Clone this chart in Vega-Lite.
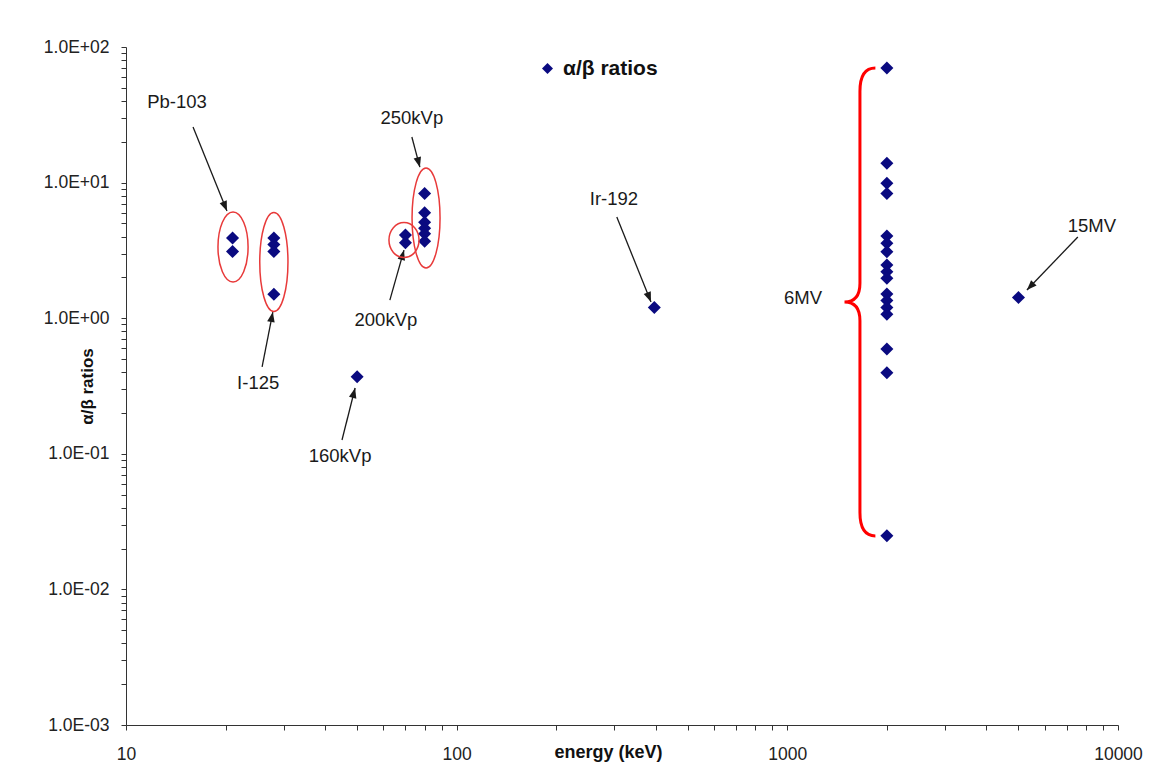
{
  "$schema": "https://vega.github.io/schema/vega-lite/v6.json",
  "width": 992,
  "height": 678,
  "autosize": {"type": "none"},
  "padding": {"left": 126, "top": 47, "right": 31, "bottom": 48},
  "background": "white",
  "config": {
    "view": {"stroke": null},
    "font": "Liberation Sans",
    "axis": {"grid": false, "labelFont": "Liberation Sans", "titleFont": "Liberation Sans", "domainColor": "#333", "tickColor": "#333", "labelColor": "#222", "titleColor": "#111", "tickSize": 5, "labelFontSize": 17.5, "titleFontSize": 18, "titleFontWeight": "bold", "labelOverlap": false, "labelFlush": false, "labelBound": false}
  },
  "datasets": {
    "pts": [
      {"x": 21, "y": 3.9}, {"x": 21, "y": 3.1},
      {"x": 28, "y": 3.9}, {"x": 28, "y": 3.5}, {"x": 28, "y": 3.1}, {"x": 28, "y": 1.5},
      {"x": 50, "y": 0.37},
      {"x": 70, "y": 4.1}, {"x": 70, "y": 3.6},
      {"x": 80, "y": 8.3}, {"x": 80, "y": 6.0}, {"x": 80, "y": 5.1}, {"x": 80, "y": 4.6}, {"x": 80, "y": 4.2}, {"x": 80, "y": 3.7},
      {"x": 396, "y": 1.2},
      {"x": 5000, "y": 1.42},
      {"x": 2000, "y": 70}, {"x": 2000, "y": 13.9}, {"x": 2000, "y": 9.9}, {"x": 2000, "y": 8.3},
      {"x": 2000, "y": 4.04}, {"x": 2000, "y": 3.57}, {"x": 2000, "y": 3.09},
      {"x": 2000, "y": 2.47}, {"x": 2000, "y": 2.2}, {"x": 2000, "y": 1.97},
      {"x": 2000, "y": 1.51}, {"x": 2000, "y": 1.35}, {"x": 2000, "y": 1.2}, {"x": 2000, "y": 1.07},
      {"x": 2000, "y": 0.593}, {"x": 2000, "y": 0.396}, {"x": 2000, "y": 0.0249}
    ],
    "ell": [
      {"name": "Pb", "x": 21.07, "y": 3.35},
      {"name": "I", "x": 28.0, "y": 2.6},
      {"name": "k200", "x": 69.3, "y": 3.77},
      {"name": "k250", "x": 80.8, "y": 5.48}
    ],
    "brace": [{"x": 1658, "y": 1.317}],
    "arrows": [
      {"x": 15.95, "y": 25.7, "x2": 20.2, "y2": 6.17},
      {"x": 73.2, "y": 21.7, "x2": 77.4, "y2": 13.0},
      {"x": 62.8, "y": 1.36, "x2": 69.3, "y2": 3.18},
      {"x": 25.8, "y": 0.437, "x2": 27.8, "y2": 1.11},
      {"x": 45.0, "y": 0.1264, "x2": 49.3, "y2": 0.3056},
      {"x": 305, "y": 5.58, "x2": 387, "y2": 1.317},
      {"x": 7560, "y": 3.97, "x2": 5303, "y2": 1.614}
    ],
    "labels": [
      {"x": 14.26, "y": 39.3, "text": "Pb-103"},
      {"x": 73.2, "y": 29.95, "text": "250kVp"},
      {"x": 61.1, "y": 0.97, "text": "200kVp"},
      {"x": 25.1, "y": 0.333, "text": "I-125"},
      {"x": 44.4, "y": 0.0963, "text": "160kVp"},
      {"x": 299, "y": 7.57, "text": "Ir-192"},
      {"x": 8340, "y": 4.79, "text": "15MV"},
      {"x": 1115, "y": 1.41, "text": "6MV"}
    ]
  },
  "encoding": {
    "x": {
      "field": "x", "type": "quantitative",
      "scale": {"type": "log", "domain": [10, 10000], "nice": false, "zero": false},
      "axis": {
        "title": "energy (keV)",
        "values": [10, 20, 30, 40, 50, 60, 70, 80, 90, 100, 200, 300, 400, 500, 600, 700, 800, 900, 1000, 2000, 3000, 4000, 5000, 6000, 7000, 8000, 9000, 10000],
        "labelExpr": "abs(log(datum.value)/LN10 - round(log(datum.value)/LN10)) < 0.001 ? format(datum.value, 'd') : ''",
        "labelPadding": 15,
        "titleX": 482,
        "titleY": 18,
        "titleBaseline": "top"
      }
    },
    "y": {
      "field": "y", "type": "quantitative",
      "scale": {"type": "log", "domain": [0.001, 100], "nice": false, "zero": false},
      "axis": {
        "title": "α/β ratios",
        "values": [0.001, 0.002, 0.003, 0.004, 0.005, 0.006, 0.007, 0.008, 0.009, 0.01, 0.02, 0.03, 0.04, 0.05, 0.06, 0.07, 0.08, 0.09, 0.1, 0.2, 0.3, 0.4, 0.5, 0.6, 0.7, 0.8, 0.9, 1, 2, 3, 4, 5, 6, 7, 8, 9, 10, 20, 30, 40, 50, 60, 70, 80, 90, 100],
        "labelExpr": "abs(log(datum.value)/LN10 - round(log(datum.value)/LN10)) < 0.001 ? '1.0E' + (datum.value >= 1 ? '+' : '-') + '0' + abs(round(log(datum.value)/LN10)) : ''",
        "labelPadding": 12,
        "titleX": -30,
        "titleFontSize": 17
      }
    }
  },
  "layer": [
    {
      "data": {"name": "pts"},
      "mark": {"type": "point", "shape": "diamond", "filled": true, "size": 170, "opacity": 1, "strokeWidth": 0},
      "encoding": {
        "color": {
          "datum": "α/β ratios", "type": "nominal",
          "scale": {"domain": ["α/β ratios"], "range": ["#0a0a80"]},
          "legend": {"orient": "none", "legendX": 411, "legendY": 11, "title": null, "labelFont": "Liberation Sans", "labelFontSize": 21, "labelFontWeight": "bold", "labelColor": "#111", "labelOffset": 5, "symbolType": "diamond", "symbolSize": 120, "symbolStrokeWidth": 0, "symbolOpacity": 1}
        }
      }
    },
    {
      "data": {"name": "arrows"},
      "mark": {"type": "rule", "color": "#1a1a1a", "strokeWidth": 1.3},
      "encoding": {
        "x2": {"field": "x2"},
        "y2": {"field": "y2"}
      }
    },
    {
      "data": {"name": "arrows"},
      "transform": [
        {"calculate": "atan2(log(datum.x2/datum.x) * 992 / 3, log(datum.y2/datum.y) * 678 / 5) * 180 / PI", "as": "ang"},
        {"calculate": "datum.x2", "as": "x"},
        {"calculate": "datum.y2", "as": "y"}
      ],
      "mark": {"type": "point", "shape": "M0,0L-0.38,1L0.38,1Z", "filled": true, "size": 400, "color": "#1a1a1a", "opacity": 1, "strokeWidth": 0},
      "encoding": {
        "angle": {"field": "ang", "type": "quantitative", "scale": null}
      }
    },
    {
      "data": {"name": "ell"},
      "transform": [{"filter": "datum.name === 'Pb'"}],
      "mark": {"type": "point", "shape": "M0,-1A0.43,1,0,1,1,0,1A0.43,1,0,1,1,0,-1Z", "size": 4900, "filled": false, "stroke": "#e83a3a", "strokeWidth": 1.5, "opacity": 1}
    },
    {
      "data": {"name": "ell"},
      "transform": [{"filter": "datum.name === 'I'"}],
      "mark": {"type": "point", "shape": "M0,-1A0.285,1,0,1,1,0,1A0.285,1,0,1,1,0,-1Z", "size": 9801, "filled": false, "stroke": "#e83a3a", "strokeWidth": 1.5, "opacity": 1}
    },
    {
      "data": {"name": "ell"},
      "transform": [{"filter": "datum.name === 'k200'"}],
      "mark": {"type": "point", "shape": "M0,-1A0.86,1,0,1,1,0,1A0.86,1,0,1,1,0,-1Z", "size": 1225, "filled": false, "stroke": "#e83a3a", "strokeWidth": 1.5, "opacity": 1}
    },
    {
      "data": {"name": "ell"},
      "transform": [{"filter": "datum.name === 'k250'"}],
      "mark": {"type": "point", "shape": "M0,-1A0.28,1,0,1,1,0,1A0.28,1,0,1,1,0,-1Z", "size": 10000, "filled": false, "stroke": "#e83a3a", "strokeWidth": 1.5, "opacity": 1}
    },
    {
      "data": {"name": "brace"},
      "mark": {"type": "point", "shape": "M0.066,-1Q0,-1,0,-0.9L0,-0.08Q0,0,-0.066,0Q0,0,0,0.08L0,0.9Q0,1,0.066,1", "size": 219024, "filled": false, "stroke": "#ff0000", "strokeWidth": 3, "opacity": 1}
    },
    {
      "data": {"name": "labels"},
      "mark": {"type": "text", "font": "Liberation Sans", "fontSize": 18.5, "color": "#1a1a1a", "align": "center", "baseline": "middle"},
      "encoding": {"text": {"field": "text"}}
    }
  ]
}
